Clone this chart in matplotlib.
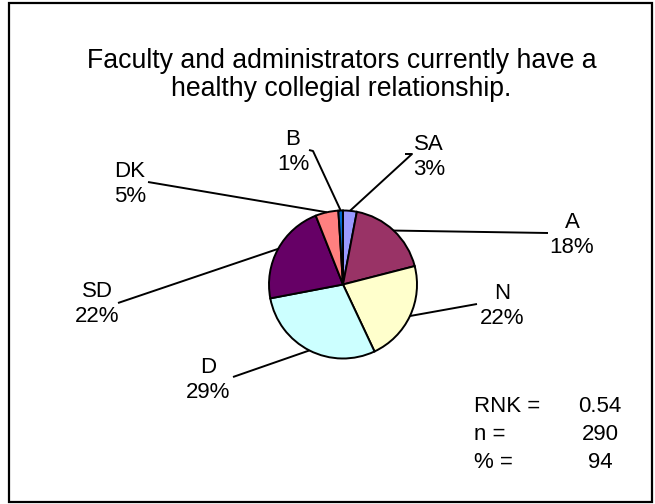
import numpy as np
import matplotlib
matplotlib.use("Agg")
import matplotlib.pyplot as plt
from matplotlib.patches import Rectangle

plt.rcParams['font.family'] = ['Liberation Sans', 'DejaVu Sans']

# Survey responses (percent of respondents)
categories = ["SA", "A", "N", "D", "SD", "DK", "B"]
percents = [3, 18, 22, 29, 22, 5, 1]
colors = ["#9999FF", "#993366", "#FFFFCC", "#CCFFFF", "#660066", "#FF8080", "#0066CC"]

title = "Faculty and administrators currently have a\nhealthy collegial relationship."
stat_names = ["RNK =", "n =", "% ="]
stat_values = ["0.54", "290", "94"]

W, H = 655, 504
fig = plt.figure(figsize=(W / 100, H / 100), dpi=100)
ax = fig.add_axes([0, 0, 1, 1])

def Y(y):
    return H - y

# pie
cx, cy, r = 343, Y(284.5), 74
ax.pie(percents, colors=colors, startangle=90, counterclock=False,
       center=(cx, cy), radius=r, frame=True,
       wedgeprops=dict(edgecolor="black", linewidth=1.4))
ax.set_xlim(0, W)
ax.set_ylim(0, H)
ax.set_aspect("equal")
ax.axis("off")

# outer frame
ax.add_patch(Rectangle((8.5, Y(501.5)), 643, 499, fill=False, lw=1.6, ec="black"))

# title
ax.text(341.5, Y(75), title, ha="center", va="center", fontsize=19.2, linespacing=1.12)

# label anchor positions (text centre) and leader-line outer ends
label_pos = {
    "SA": (429, 157), "A": (572, 235), "N": (502, 306), "D": (208, 380),
    "SD": (97, 304), "DK": (130, 184), "B": (293, 152),
}
line_end = {
    "SA": [(412, 154), (405, 154)], "A": [(548, 233)], "N": [(477, 304)],
    "D": [(233, 377)], "SD": [(118, 303)], "DK": [(148, 182)],
    "B": [(313, 151), (309, 150)],
}

cum = np.cumsum([0] + percents)
for i, cat in enumerate(categories):
    mid = (cum[i] + cum[i + 1]) / 2 / sum(percents)
    ang = np.deg2rad(90 - 360 * mid)
    px, py = cx + r * np.cos(ang), cy + r * np.sin(ang)
    pts = [(px, py)] + [(x, Y(y)) for x, y in line_end[cat]]
    xs, ys = zip(*pts)
    ax.plot(xs, ys, color="black", lw=1.4, solid_capstyle="butt")
    lx, ly = label_pos[cat]
    ax.text(lx, Y(ly), f"{cat}\n{percents[i]}%", ha="center", va="center",
            fontsize=16, linespacing=1.25)

# summary statistics
for k, (nm, val) in enumerate(zip(stat_names, stat_values)):
    yy = Y(406 + 28.5 * k)
    ax.text(474, yy, nm, ha="left", va="center", fontsize=16)
    ax.text(600, yy, val, ha="center", va="center", fontsize=16)

fig.savefig("out.png", dpi=100)
